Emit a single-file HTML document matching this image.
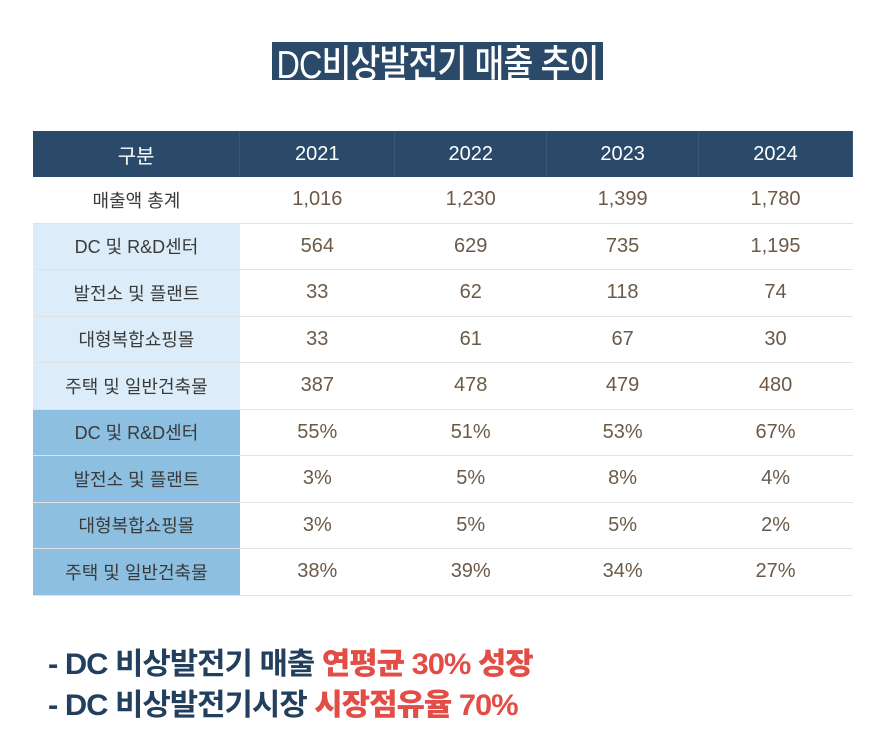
<!DOCTYPE html>
<html><head><meta charset="utf-8">
<style>
body{margin:0;width:887px;height:754px;background:#fff;overflow:hidden;position:relative;font-family:"Liberation Sans","Noto Sans CJK KR",sans-serif}
#title{position:absolute;left:272px;top:42px;width:331px;height:38px;background:#2b4a69;overflow:hidden}
#title span{position:absolute;left:-100px;top:-8px;width:531px;text-align:center;color:#fff;font-size:39px;font-weight:500;white-space:nowrap;transform:scaleX(0.83);transform-origin:center;letter-spacing:-1px}
table{position:absolute;left:33px;top:131px;border-collapse:collapse;width:820px;font-size:19px}
td{height:45.5px;padding:0;text-align:center;border-bottom:1px solid #e2e2e2;color:#6b5a48;font-size:20px}
td.h{color:#3a3a3a;font-size:18px}
tr.head td{background:#2b4a69;color:#fff;border-right:1px solid #3b5878;font-size:20px;border-bottom:none;height:46px}
tr.lb td.h{background:#dcedf9}
tr.mb td.h{background:#8cbfe0}
.note{position:absolute;left:48px;font-size:30px;font-weight:bold;color:#223f5e;white-space:nowrap;transform:scaleX(1.03);transform-origin:left;letter-spacing:-1px}
.note b{color:#e24d45}
</style></head><body>
<div id="title"><span>DC비상발전기 매출 추이</span></div>
<table>
<colgroup><col style="width:207px"><col style="width:155px"><col style="width:152px"><col style="width:152px"><col style="width:154px"></colgroup>
<tr class="head"><td>구분</td><td>2021</td><td>2022</td><td>2023</td><td>2024</td></tr>
<tr><td class="h">매출액 총계</td><td>1,016</td><td>1,230</td><td>1,399</td><td>1,780</td></tr>
<tr class="lb"><td class="h">DC 및 R&amp;D센터</td><td>564</td><td>629</td><td>735</td><td>1,195</td></tr>
<tr class="lb"><td class="h">발전소 및 플랜트</td><td>33</td><td>62</td><td>118</td><td>74</td></tr>
<tr class="lb"><td class="h">대형복합쇼핑몰</td><td>33</td><td>61</td><td>67</td><td>30</td></tr>
<tr class="lb"><td class="h">주택 및 일반건축물</td><td>387</td><td>478</td><td>479</td><td>480</td></tr>
<tr class="mb"><td class="h">DC 및 R&amp;D센터</td><td>55%</td><td>51%</td><td>53%</td><td>67%</td></tr>
<tr class="mb"><td class="h">발전소 및 플랜트</td><td>3%</td><td>5%</td><td>8%</td><td>4%</td></tr>
<tr class="mb"><td class="h">대형복합쇼핑몰</td><td>3%</td><td>5%</td><td>5%</td><td>2%</td></tr>
<tr class="mb"><td class="h">주택 및 일반건축물</td><td>38%</td><td>39%</td><td>34%</td><td>27%</td></tr>
</table>
<div class="note" style="top:639px">- DC 비상발전기 매출 <b>연평균 30% 성장</b></div>
<div class="note" style="top:680px">- DC 비상발전기시장 <b>시장점유율 70%</b></div>
</body></html>
